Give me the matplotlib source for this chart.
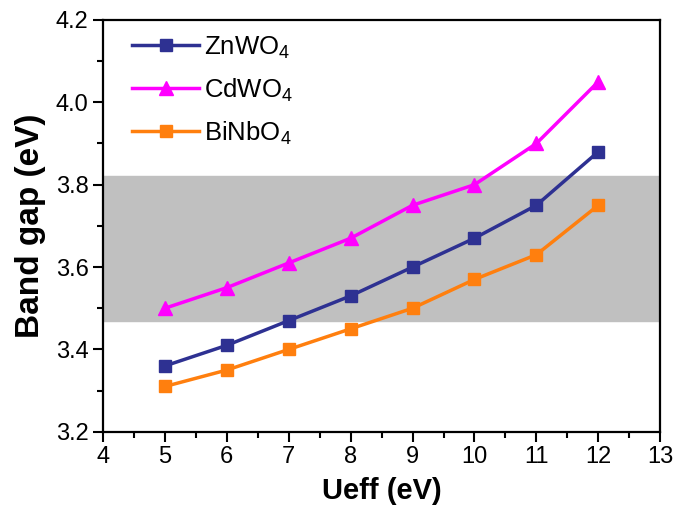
import numpy as np
import matplotlib
matplotlib.use("Agg")
import matplotlib.pyplot as plt
from matplotlib.ticker import MultipleLocator

plt.rcParams['font.family'] = ['Liberation Sans', 'DejaVu Sans']
plt.rcParams['mathtext.fontset'] = 'custom'
plt.rcParams['mathtext.rm'] = 'Liberation Sans'

# data
ueff = [5, 6, 7, 8, 9, 10, 11, 12]
znwo4 = [3.36, 3.41, 3.47, 3.53, 3.60, 3.67, 3.75, 3.88]
cdwo4 = [3.50, 3.55, 3.61, 3.67, 3.75, 3.80, 3.90, 4.05]
binbo4 = [3.31, 3.35, 3.40, 3.45, 3.50, 3.57, 3.63, 3.75]
band_lo, band_hi = 3.47, 3.82

fig = plt.figure(figsize=(6.87, 5.11), dpi=100)
ax = fig.add_axes([0.150, 0.155, 0.811, 0.806])

ax.axhspan(band_lo, band_hi, color='#c0c0c0', zorder=0)

ax.plot(ueff, znwo4, color='#2e3192', marker='s', ms=8, lw=2.5, label='ZnWO$_4$')
ax.plot(ueff, cdwo4, color='#ff00ff', marker='^', ms=10, lw=2.5, label='CdWO$_4$')
ax.plot(ueff, binbo4, color='#ff7f0e', marker='s', ms=8.5, lw=2.5, label='BiNbO$_4$')

ax.set_xlim(4, 13)
ax.set_ylim(3.2, 4.2)
ax.xaxis.set_major_locator(MultipleLocator(1))
ax.xaxis.set_minor_locator(MultipleLocator(0.5))
ax.yaxis.set_major_locator(MultipleLocator(0.2))
ax.yaxis.set_minor_locator(MultipleLocator(0.1))
ax.set_yticklabels([f'{v:.1f}' for v in ax.get_yticks()])

ax.tick_params(which='both', direction='out', width=1.5, labelsize=17)
ax.tick_params(which='major', length=7)
ax.tick_params(which='minor', length=4)
for s in ax.spines.values():
    s.set_linewidth(1.6)

ax.set_xlabel('Ueff (eV)', fontsize=21, fontweight='bold', labelpad=6)
ax.set_ylabel('Band gap (eV)', fontsize=24, fontweight='bold', labelpad=7)

ax.legend(loc='upper left', bbox_to_anchor=(0.034, 0.99), frameon=False,
          fontsize=18.5, handlelength=2.6, handletextpad=0.2,
          labelspacing=0.6, borderaxespad=0)

fig.savefig('out.png', dpi=100)
